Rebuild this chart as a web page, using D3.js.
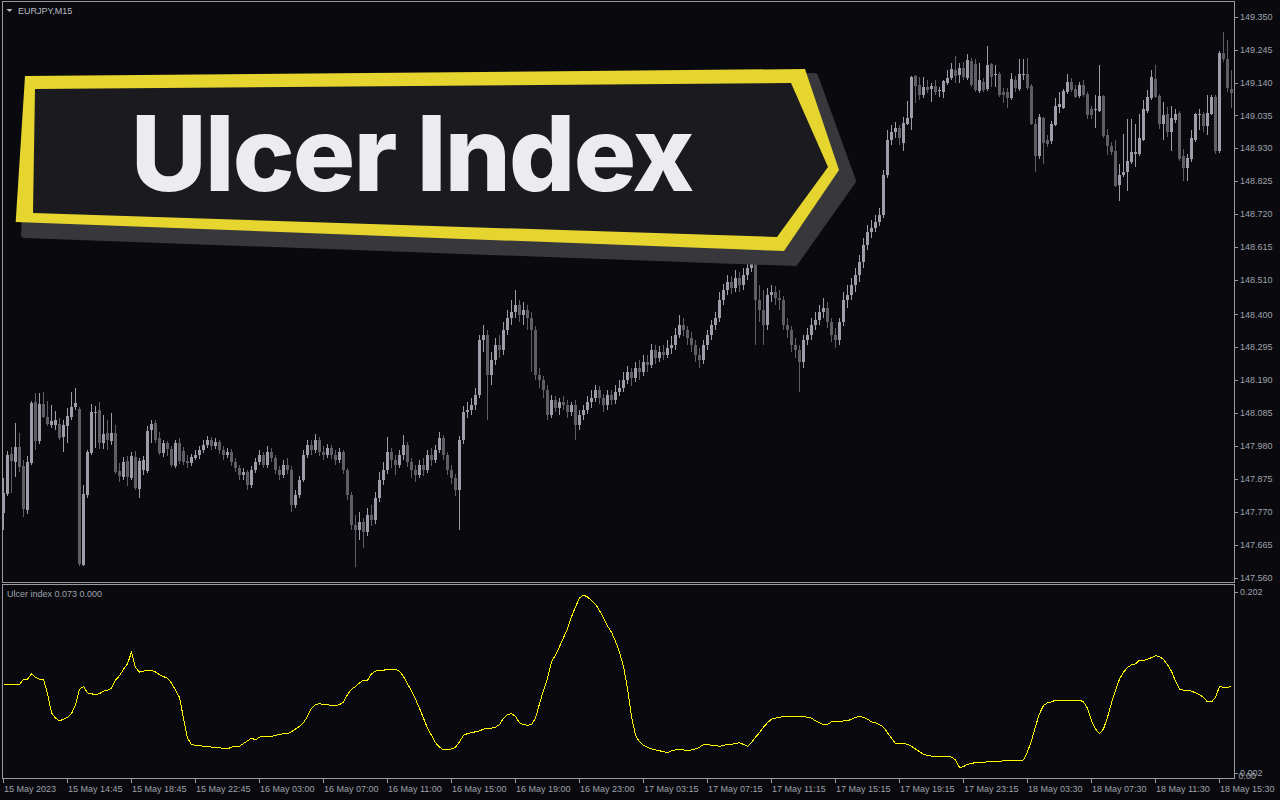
<!DOCTYPE html>
<html><head><meta charset="utf-8">
<script src="https://cdn.jsdelivr.net/npm/d3@7"></script>
<style>html,body{margin:0;padding:0;background:#0a0a0e;overflow:hidden}svg{display:block}</style>
</head><body>
<svg id="c" width="1280" height="800"></svg>
<script>
const symbolLabel = "EURJPY,M15";
const indicatorLabel = "Ulcer index 0.073 0.000";
const bannerTitle = "Ulcer Index";
const timeLabels = ["15 May 2023","15 May 14:45","15 May 18:45","15 May 22:45","16 May 03:00","16 May 07:00","16 May 11:00","16 May 15:00","16 May 19:00","16 May 23:00","17 May 03:15","17 May 07:15","17 May 11:15","17 May 15:15","17 May 19:15","17 May 23:15","18 May 03:30","18 May 07:30","18 May 11:30","18 May 15:30"];
const timeLabelBars = [0,16,32,48,64,80,96,112,128,144,160,176,192,208,224,240,256,272,288,304];
const priceTicks = [149.350,149.245,149.140,149.035,148.930,148.825,148.720,148.615,148.510,148.400,148.295,148.190,148.085,147.980,147.875,147.770,147.665,147.560];
const indicatorTicks = [0.202,0.002];

const opens = [147.766,147.827,147.954,147.929,147.977,147.917,147.776,147.926,148.121,147.996,148.114,148.073,148.047,148.047,148.050,148.009,148.044,148.073,148.105,148.098,147.601,147.824,147.958,148.085,148.095,147.990,148.021,147.996,148.021,147.901,147.882,147.933,147.878,147.945,147.843,147.904,147.901,148.031,148.053,148.006,147.958,147.990,147.971,147.917,147.990,147.964,147.933,147.926,147.942,
147.951,147.967,147.983,147.999,147.980,147.993,147.967,147.951,147.961,147.929,
147.910,147.888,147.898,147.856,147.904,147.929,147.951,147.920,147.961,147.942,
147.904,147.888,147.920,147.904,147.792,147.824,147.872,147.951,147.983,147.967,
147.999,147.961,147.951,147.974,147.951,147.936,147.961,147.904,147.824,147.728,
147.712,147.738,147.706,147.760,147.744,147.814,147.872,147.904,147.961,147.936,
147.920,147.951,147.983,147.929,147.904,147.888,147.920,147.904,147.951,147.936,
147.967,148.006,147.951,147.904,147.878,147.840,147.999,148.089,148.095,148.111,
148.143,148.318,148.334,148.207,148.255,148.302,148.287,148.350,148.389,148.408,
148.430,148.398,148.414,148.389,148.350,148.207,148.191,148.159,148.079,148.127,
148.101,148.121,148.111,148.089,148.111,148.047,148.079,148.095,148.121,148.133,
148.159,148.133,148.111,148.143,148.127,148.153,148.165,148.191,148.216,148.197,
148.229,148.216,148.248,148.239,148.287,148.261,148.280,148.271,148.293,148.302,
148.334,148.366,148.350,148.325,148.302,148.271,148.255,148.302,148.334,148.366,
148.389,148.446,148.478,148.503,148.484,148.516,148.494,148.526,148.548,148.580,
148.446,148.414,148.366,148.462,148.471,148.452,148.446,148.366,148.350,148.302,
148.287,148.248,148.318,148.334,148.366,148.382,148.408,148.420,148.376,148.334,
148.318,148.376,148.446,148.462,148.494,148.526,148.567,148.622,148.663,148.676,
148.695,148.717,148.845,148.957,148.982,148.995,
148.946,149.009,149.028,149.162,149.133,149.101,149.127,149.120,149.130,149.114,149.111,149.139,149.155,149.181,149.165,149.187,149.155,149.209,149.200,149.114,149.143,149.120,149.200,149.163,149.168,149.111,149.111,149.092,149.149,149.120,149.166,149.168,149.130,149.009,148.904,149.028,148.958,148.952,149.006,149.063,149.060,149.111,149.143,149.120,149.098,149.133,149.104,149.054,149.052,149.050,149.098,148.974,148.936,148.923,148.812,148.844,148.854,148.885,148.911,148.911,148.958,149.050,149.092,149.152,149.098,149.009,149.038,148.981,149.019,149.044,148.904,148.866,148.895,148.955,149.035,149.038,149.000,149.041,149.095,148.920,149.235,149.216,149.120];
const highs = [147.878,147.964,147.977,148.053,148.021,147.936,147.948,148.124,148.149,148.149,148.153,148.124,148.111,148.092,148.069,148.063,148.101,148.153,148.165,148.105,147.856,147.967,148.114,148.108,148.121,148.079,148.063,148.085,148.047,147.926,147.945,147.948,147.961,147.964,147.942,147.948,148.044,148.063,148.063,148.025,147.999,147.996,147.980,147.999,148.006,147.977,147.951,147.954,147.967,
147.980,147.999,148.012,148.009,148.006,147.999,147.980,147.974,147.971,147.942,
147.920,147.910,147.904,147.917,147.942,147.967,147.961,147.980,147.974,147.951,
147.917,147.936,147.942,147.917,147.840,147.885,147.967,147.999,147.999,148.018,
148.009,147.980,147.986,147.983,147.967,147.974,147.967,147.910,147.834,147.760,
147.770,147.751,147.783,147.792,147.834,147.898,147.929,148.009,147.974,147.951,
147.967,148.015,147.993,147.942,147.920,147.936,147.942,147.967,147.974,147.983,
148.025,148.015,147.961,147.920,147.891,148.012,148.108,148.121,148.133,148.165,
148.334,148.366,148.350,148.280,148.325,148.334,148.376,148.414,148.446,148.478,
148.446,148.440,148.430,148.408,148.363,148.229,148.204,148.175,148.143,148.140,
148.133,148.140,148.127,148.121,148.127,148.095,148.111,148.140,148.159,148.175,
148.172,148.146,148.159,148.159,148.175,148.191,148.216,148.235,148.229,148.248,
148.255,148.271,148.271,148.306,148.302,148.299,148.302,148.318,148.331,148.357,
148.398,148.389,148.363,148.344,148.318,148.293,148.318,148.350,148.382,148.408,
148.471,148.497,148.526,148.523,148.542,148.535,148.548,148.574,148.606,148.622,
148.494,148.478,148.484,148.494,148.490,148.478,148.459,148.389,148.363,148.325,
148.302,148.334,148.357,148.389,148.408,148.430,148.452,148.440,148.389,148.357,
148.389,148.471,148.494,148.516,148.548,148.590,148.644,148.685,148.701,148.717,
148.740,148.861,148.989,149.005,149.014,149.005,
149.031,149.082,149.162,149.165,149.158,149.158,149.149,149.139,149.149,149.127,149.149,149.181,149.203,149.225,149.203,149.206,149.231,149.219,149.216,149.203,149.155,149.257,149.203,149.197,149.174,149.124,149.124,149.171,149.162,149.216,149.216,149.219,149.136,149.022,149.038,149.031,148.971,149.016,149.089,149.111,149.120,149.168,149.155,149.133,149.143,149.149,149.111,149.066,149.101,149.197,149.101,148.993,148.949,148.955,148.879,148.977,149.022,149.022,149.009,149.038,149.085,149.117,149.181,149.197,149.104,149.079,149.063,149.066,149.054,149.050,148.927,148.911,148.990,149.044,149.054,149.047,149.101,149.101,149.101,149.241,149.301,149.276,149.181];
const lows = [147.712,147.821,147.830,147.882,147.898,147.754,147.763,147.920,147.967,147.986,148.069,148.044,148.037,148.031,147.999,147.961,147.990,148.063,148.095,147.597,147.597,147.814,147.951,147.974,147.971,147.971,147.967,147.983,147.891,147.866,147.872,147.853,147.872,147.840,147.814,147.888,147.894,147.990,147.990,147.951,147.945,147.948,147.913,147.910,147.923,147.920,147.910,147.917,147.936,
147.939,147.958,147.974,147.967,147.971,147.955,147.936,147.942,147.917,147.898,
147.872,147.872,147.840,147.846,147.894,147.920,147.910,147.910,147.929,147.891,
147.872,147.878,147.891,147.770,147.783,147.814,147.866,147.942,147.951,147.958,
147.948,147.936,147.942,147.939,147.920,147.926,147.891,147.808,147.712,147.594,
147.680,147.655,147.693,147.725,147.732,147.802,147.856,147.891,147.910,147.888,
147.910,147.936,147.913,147.878,147.866,147.878,147.885,147.894,147.917,147.926,
147.958,147.936,147.888,147.859,147.821,147.712,147.986,148.069,148.079,148.095,
148.133,148.280,148.063,148.175,148.239,148.261,148.271,148.334,148.366,148.389,
148.376,148.366,148.350,148.216,148.191,148.165,148.133,148.063,148.069,148.089,
148.079,148.095,148.069,148.076,147.999,148.031,148.063,148.082,148.101,148.121,
148.114,148.089,148.095,148.111,148.114,148.140,148.153,148.178,148.172,148.185,
148.191,148.204,148.216,148.229,148.242,148.248,148.255,148.261,148.274,148.287,
148.325,148.331,148.302,148.280,148.248,148.229,148.242,148.287,148.318,148.350,
148.376,148.430,148.462,148.465,148.471,148.471,148.478,148.510,148.535,148.302,
148.376,148.302,148.350,148.440,148.430,148.414,148.350,148.325,148.280,148.261,
148.153,148.229,148.302,148.318,148.350,148.366,148.389,148.357,148.312,148.293,
148.302,148.363,148.420,148.446,148.471,148.503,148.548,148.606,148.644,148.663,
148.682,148.708,148.835,148.941,148.963,148.941,
148.923,149.003,148.990,149.076,149.085,149.092,149.108,149.079,149.101,149.095,149.092,149.133,149.149,149.139,149.139,149.149,149.149,149.127,149.111,149.108,149.111,149.114,149.127,149.127,149.095,149.076,149.060,149.085,149.111,149.114,149.149,149.117,149.003,148.854,148.895,148.879,148.933,148.943,149.000,149.044,149.054,149.104,149.111,149.089,149.092,149.095,149.022,149.022,148.996,149.047,148.962,148.908,148.908,148.806,148.761,148.838,148.793,148.879,148.869,148.904,148.952,149.044,149.085,149.089,148.993,148.958,148.965,148.920,149.012,148.889,148.825,148.825,148.885,148.949,148.990,148.981,148.974,149.035,148.911,148.914,149.206,149.111,149.060];
const closes = [147.830,147.951,147.933,147.977,147.913,147.779,147.929,148.118,147.996,148.114,148.073,148.050,148.060,148.063,148.006,148.047,148.076,148.105,148.118,147.604,147.827,147.961,148.089,148.089,147.990,148.018,147.999,148.021,147.898,147.885,147.929,147.882,147.948,147.846,147.933,147.936,148.028,148.050,147.999,147.958,147.990,147.971,147.920,147.990,147.933,147.929,147.926,147.945,147.951,
147.967,147.983,147.999,147.980,147.993,147.967,147.951,147.961,147.929,147.910,
147.888,147.898,147.856,147.904,147.929,147.951,147.920,147.961,147.942,147.904,
147.888,147.920,147.904,147.792,147.824,147.872,147.951,147.983,147.967,147.999,
147.961,147.951,147.974,147.951,147.936,147.961,147.904,147.824,147.728,147.712,
147.738,147.706,147.760,147.744,147.814,147.872,147.904,147.961,147.936,147.920,
147.951,147.983,147.929,147.904,147.888,147.920,147.904,147.951,147.936,147.967,
148.006,147.951,147.904,147.878,147.840,147.999,148.089,148.095,148.111,148.143,
148.318,148.334,148.207,148.255,148.302,148.287,148.350,148.389,148.408,148.430,
148.398,148.414,148.389,148.350,148.207,148.191,148.159,148.079,148.127,148.101,
148.121,148.111,148.089,148.111,148.047,148.079,148.095,148.121,148.133,148.159,
148.133,148.111,148.143,148.127,148.153,148.165,148.191,148.216,148.197,148.229,
148.216,148.248,148.239,148.287,148.261,148.280,148.271,148.293,148.302,148.334,
148.366,148.350,148.325,148.302,148.271,148.255,148.302,148.334,148.366,148.389,
148.446,148.478,148.503,148.484,148.516,148.494,148.526,148.548,148.580,148.446,
148.414,148.366,148.462,148.471,148.452,148.446,148.366,148.350,148.302,148.287,
148.248,148.318,148.334,148.366,148.382,148.408,148.420,148.376,148.334,148.318,
148.376,148.446,148.462,148.494,148.526,148.567,148.622,148.663,148.676,148.695,
148.717,148.845,148.957,148.982,148.995,148.963,
149.012,149.028,149.158,149.130,149.101,149.127,149.117,149.130,149.111,149.116,149.146,149.155,149.184,149.162,149.187,149.158,149.212,149.133,149.117,149.149,149.117,149.197,149.158,149.166,149.101,149.101,149.092,149.152,149.124,149.168,149.168,149.124,149.009,148.904,149.031,148.946,148.943,149.009,149.066,149.070,149.114,149.143,149.117,149.095,149.133,149.101,149.035,149.035,149.054,149.098,148.968,148.936,148.917,148.809,148.844,148.854,148.888,148.917,148.917,148.962,149.054,149.095,149.158,149.095,149.009,149.035,148.981,149.028,149.041,148.895,148.866,148.898,148.962,149.038,149.041,149.000,149.044,149.095,148.923,149.235,149.216,149.124,149.108];
const ulcer = [0.100,0.099,0.099,0.099,0.099,0.105,0.105,0.111,0.107,0.105,
0.105,0.089,0.068,0.062,0.059,0.061,0.063,0.067,0.077,0.094,
0.097,0.090,0.089,0.088,0.089,0.092,0.093,0.095,0.104,0.109,
0.116,0.122,0.135,0.118,0.113,0.114,0.115,0.115,0.113,0.110,
0.108,0.106,0.101,0.093,0.085,0.062,0.040,0.033,0.032,0.032,
0.031,0.031,0.030,0.030,0.030,0.028,0.028,0.030,0.031,0.031,
0.034,0.037,0.040,0.038,0.041,0.042,0.042,0.042,0.043,0.044,
0.045,0.045,0.047,0.050,0.053,0.057,0.064,0.073,0.077,0.078,
0.077,0.077,0.076,0.076,0.077,0.080,0.088,0.094,0.097,0.101,
0.104,0.104,0.111,0.114,0.115,0.115,0.116,0.116,0.116,0.114,
0.108,0.100,0.092,0.083,0.073,0.062,0.051,0.043,0.035,0.030,
0.027,0.027,0.028,0.030,0.036,0.043,0.045,0.046,0.047,0.048,
0.050,0.051,0.051,0.052,0.055,0.062,0.066,0.067,0.064,0.057,
0.055,0.054,0.055,0.062,0.078,0.093,0.106,0.124,0.132,0.141,
0.151,0.161,0.174,0.185,0.195,0.198,0.196,0.192,0.188,0.181,
0.173,0.164,0.157,0.147,0.135,0.119,0.095,0.064,0.043,0.036,
0.032,0.030,0.028,0.027,0.026,0.025,0.024,0.026,0.027,0.027,
0.027,0.026,0.027,0.028,0.030,0.033,0.033,0.032,0.032,0.031,
0.032,0.033,0.033,0.034,0.035,0.033,0.031,0.035,0.041,0.046,
0.052,0.057,0.061,0.062,0.063,0.064,0.064,0.064,0.064,0.064,
0.064,0.063,0.062,0.059,0.057,0.055,0.055,0.058,0.058,0.058,
0.059,0.059,0.061,0.063,0.064,0.063,0.061,0.058,0.057,0.055,
0.052,0.046,0.040,0.034,0.034,0.034,0.033,0.031,0.028,0.025,
0.022,0.021,0.020,0.020,0.020,0.020,0.020,0.019,0.016,0.0075,
0.0086,0.011,0.012,0.013,0.013,0.013,0.014,0.014,0.014,0.014,
0.015,0.015,0.015,0.015,0.015,0.016,0.025,0.037,0.053,0.067,
0.076,0.079,0.080,0.082,0.082,0.082,0.082,0.082,0.082,0.082,
0.080,0.073,0.059,0.050,0.045,0.050,0.063,0.079,0.093,0.105,
0.113,0.118,0.121,0.122,0.126,0.126,0.127,0.129,0.131,0.130,
0.127,0.121,0.114,0.103,0.094,0.093,0.093,0.092,0.090,0.088,
0.085,0.080,0.080,0.085,0.097,0.096,0.096,0.097];

const W = 1280, H = 800;
const paneL = 2.5, paneR = 1234.5, mainT = 1.5, mainB = 582.5, indT = 584.5, indB = 778.5;
const N = ulcer.length;
const bg = "#0a0a0e", frame = "#9a9aa2", txt = "#9ea2ac";
const bull = "#9d9daa", bear = "#5e5e64";
const axisFont = "'Liberation Sans', Arial, sans-serif";

const x = d3.scaleLinear().domain([0, N - 1]).range([3.5, 1231.5]);
const yP = d3.scaleLinear().domain([147.560, 149.350]).range([577.7, 16.7]);
const yI = d3.scaleLinear().domain([0.002, 0.202]).range([772.5, 591.5]);

const svg = d3.select("#c");
svg.append("rect").attr("width", W).attr("height", H).attr("fill", bg);

// candles
const idx = d3.range(N);
const gc = svg.append("g").attr("shape-rendering", "crispEdges");
const col = i => closes[i] >= opens[i] ? bull : bear;
gc.selectAll("line.w").data(idx).join("line").attr("class", "w")
  .attr("x1", i => x(i)).attr("x2", i => x(i))
  .attr("y1", i => yP(highs[i])).attr("y2", i => yP(lows[i]))
  .attr("stroke", col).attr("stroke-width", 1);
gc.selectAll("rect.b").data(idx).join("rect").attr("class", "b")
  .attr("x", i => x(i) - 1.5).attr("width", 3)
  .attr("y", i => yP(Math.max(opens[i], closes[i])))
  .attr("height", i => Math.max(1, yP(Math.min(opens[i], closes[i])) - yP(Math.max(opens[i], closes[i]))))
  .attr("fill", col);

// indicator line
svg.append("path").datum(ulcer)
  .attr("d", d3.line().x((d, i) => x(i)).y(d => yI(d)))
  .attr("fill", "none").attr("stroke", "#ffff00").attr("stroke-width", 1)
  .attr("shape-rendering", "crispEdges");

// frames
const gf = svg.append("g").attr("shape-rendering", "crispEdges").attr("fill", "none").attr("stroke", frame);
gf.append("rect").attr("x", paneL).attr("y", mainT).attr("width", paneR - paneL).attr("height", mainB - mainT);
gf.append("rect").attr("x", paneL).attr("y", indT).attr("width", paneR - paneL).attr("height", indB - indT);

// price axis
const ga = svg.append("g");
ga.selectAll("line.pt").data(priceTicks).join("line").attr("class", "pt")
  .attr("x1", paneR).attr("x2", paneR + 3).attr("y1", d => Math.round(yP(d)) + 0.5).attr("y2", d => Math.round(yP(d)) + 0.5)
  .attr("stroke", frame).attr("shape-rendering", "crispEdges");
ga.selectAll("text.pl").data(priceTicks).join("text").attr("class", "pl")
  .attr("x", 1240).attr("y", d => yP(d)).attr("dy", "0.35em")
  .attr("font-family", axisFont).attr("font-size", 9).attr("fill", txt)
  .text(d => d.toFixed(3));

// indicator axis
ga.selectAll("line.it").data(indicatorTicks).join("line").attr("class", "it")
  .attr("x1", paneR).attr("x2", paneR + 3).attr("y1", d => Math.round(yI(d)) + 0.5).attr("y2", d => Math.round(yI(d)) + 0.5)
  .attr("stroke", frame).attr("shape-rendering", "crispEdges");
ga.selectAll("text.il").data(indicatorTicks).join("text").attr("class", "il")
  .attr("x", 1240).attr("y", d => yI(d)).attr("dy", "0.35em")
  .attr("font-family", axisFont).attr("font-size", 9).attr("fill", txt)
  .text(d => d.toFixed(3));
ga.append("text").attr("x", 1238.5).attr("y", yI(0.002) + 3).attr("dy", "0.35em")
  .attr("font-family", axisFont).attr("font-size", 9).attr("fill", txt).text((0).toFixed(2));

// time axis
ga.selectAll("line.tt").data(timeLabelBars).join("line").attr("class", "tt")
  .attr("x1", d => x(d)).attr("x2", d => x(d)).attr("y1", indB).attr("y2", indB + 4)
  .attr("stroke", frame).attr("shape-rendering", "crispEdges");
ga.selectAll("text.tl").data(timeLabelBars).join("text").attr("class", "tl")
  .attr("x", d => x(d) + 0.5).attr("y", 792)
  .attr("font-family", axisFont).attr("font-size", 9).attr("fill", txt)
  .text((d, i) => timeLabels[i]);

// captions
svg.append("path").attr("d", "M6.5,9 L12.5,9 L9.5,12 Z").attr("fill", "#b8bcc4");
svg.append("text").attr("x", 18).attr("y", 10.5).attr("dy", "0.35em")
  .attr("font-family", axisFont).attr("font-size", 9).attr("fill", "#b8bcc4").text(symbolLabel);
svg.append("text").attr("x", 7).attr("y", 593.5).attr("dy", "0.35em")
  .attr("font-family", axisFont).attr("font-size", 9).attr("fill", txt).text(indicatorLabel);

// banner
const gb = svg.append("g");
gb.append("polygon").attr("points", "30,86 815,76 853,181 795,263 24,235")
  .attr("fill", "#38383c").attr("stroke", "#38383c").attr("stroke-width", 6).attr("stroke-linejoin", "round");
gb.append("polygon").attr("points", "25,76 805,69 839,170 784,251 15.7,222").attr("fill", "#e6d52e");
gb.append("polygon").attr("points", "35,89 791,83 828,167 777,237 33,213").attr("fill", "#1b1b1f");
gb.append("text").attr("x", 131).attr("y", 191)
  .attr("font-family", "Inter, 'Noto Sans', sans-serif").attr("font-weight", 800).attr("font-size", 104)
  .attr("letter-spacing", -1.7)
  .attr("fill", "#ececf0").text(bannerTitle);
</script>
</body></html>
